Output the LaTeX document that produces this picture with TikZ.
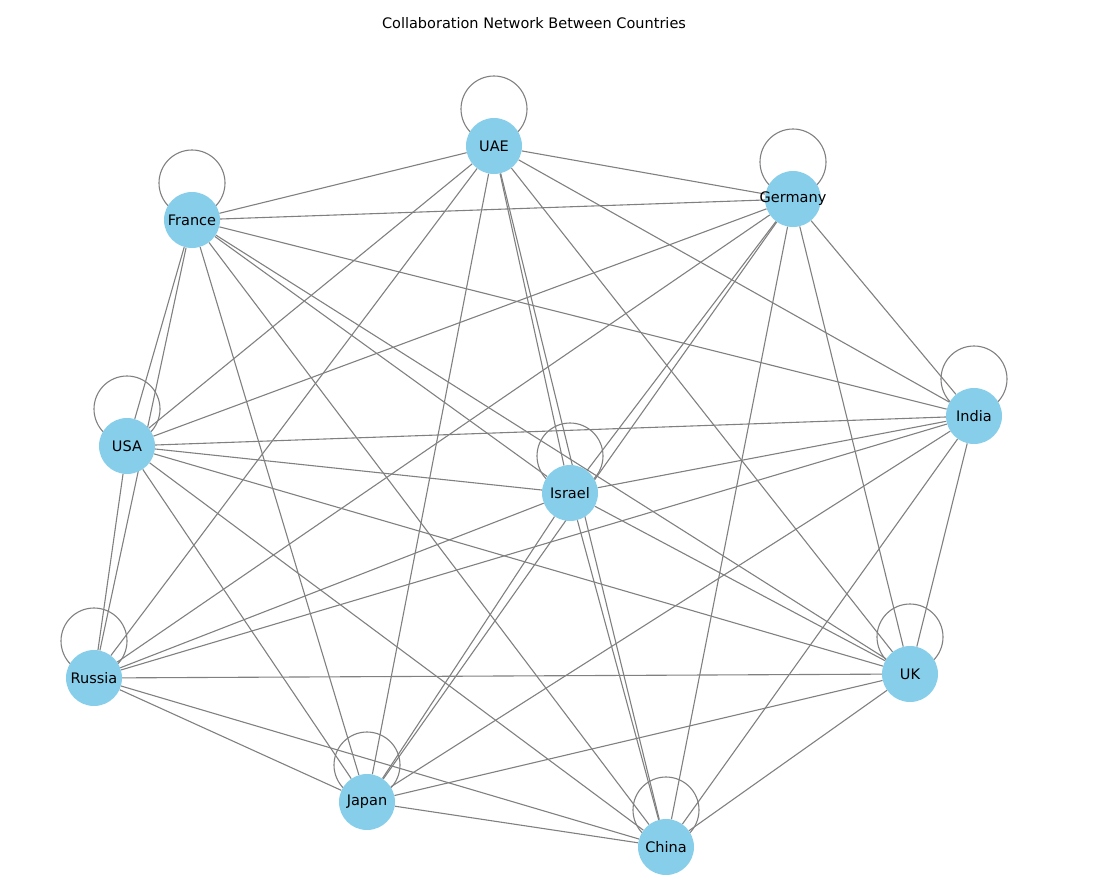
\documentclass[tikz,border=0pt]{standalone}
\usepackage{fontspec}
\setmainfont{DejaVu Sans}
\usetikzlibrary{backgrounds}
\definecolor{skyblue}{HTML}{87CEEB}
\definecolor{edgegray}{HTML}{808080}
\newcommand{\cname}[1]{\makebox[0pt]{#1}}

\begin{document}
\begin{tikzpicture}[x=1pt,y=-1pt,
    country/.style={circle,fill=skyblue,minimum size=56pt,inner sep=0pt,font=\fontsize{14.5}{17}\selectfont},
    link/.style={draw=edgegray,line width=1.1pt}]
\useasboundingbox (0,0) rectangle (1093,894);
\node[font=\fontsize{14.5}{17}\selectfont] (title) at (534,23) {Collaboration Network Between Countries};
\node[country] (uae) at (494,146) {\cname{UAE}};
\node[country] (germany) at (793,199) {\cname{Germany}};
\node[country] (france) at (192,220) {\cname{France}};
\node[country] (india) at (974,416) {\cname{India}};
\node[country] (usa) at (127,446) {\cname{USA}};
\node[country] (israel) at (570,493) {\cname{Israel}};
\node[country] (russia) at (94,678) {\cname{Russia}};
\node[country] (uk) at (910,674) {\cname{UK}};
\node[country] (japan) at (367,802) {\cname{Japan}};
\node[country] (china) at (666,847) {\cname{China}};
\begin{scope}[on background layer]
\foreach \a [count=\i] in {uae,germany,france,india,usa,israel,russia,uk,japan,china}{
  \draw[link] (\a.center) ++(0,-37) circle (33pt);
  \foreach \b [count=\j] in {uae,germany,france,india,usa,israel,russia,uk,japan,china}{
    \ifnum\j>\i \draw[link] (\a) -- (\b); \fi
  }
}
\end{scope}
\end{tikzpicture}
\end{document}
